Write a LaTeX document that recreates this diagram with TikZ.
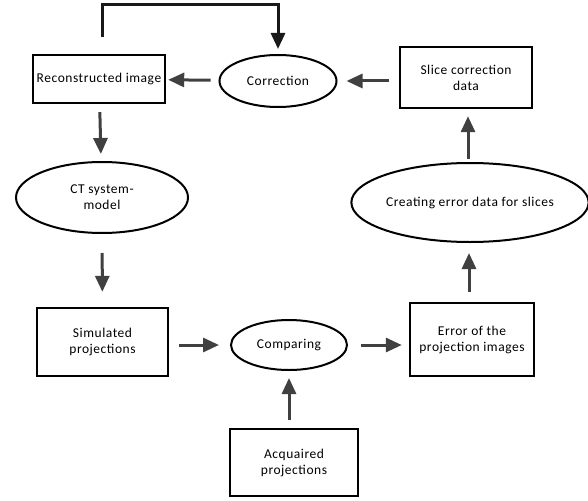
\documentclass[tikz,border=0pt]{standalone}
\usepackage{fontspec}
\setmainfont{Carlito}[LetterSpace=4]
\usetikzlibrary{shapes.geometric,arrows.meta}

\tikzset{
  stepbox/.style={draw, line width=2.4pt, inner sep=0pt, align=center},
  oval/.style={draw, ellipse, line width=2pt, inner sep=0pt, align=center},
  flow/.style={draw=black!75, line width=3pt, shorten <=8pt, shorten >=7pt,
    -{Triangle[length=16pt,width=14pt]}}
}

\begin{document}
\begin{tikzpicture}[x=1pt, y=-1pt, font=\fontsize{13.5}{16}\selectfont]
\useasboundingbox (0,0) rectangle (588,500);

% top row
\node[stepbox, minimum width=132pt, minimum height=48pt] (rec) at (99,79) {Reconstructed image};
\node[oval, minimum width=117pt, minimum height=52pt] (corr) at (278,81) {Correction};
\node[stepbox, minimum width=132pt, minimum height=61pt] (slice) at (466,77.5) {Slice correction\\data};

% middle row
\node[oval, minimum width=172pt, minimum height=71pt] (ctm) at (102,197.5) {CT system-\\model};
\node[oval, minimum width=229pt, minimum height=79pt] (creat) at (470,202.5) {Creating error data for slices};

% bottom rows
\node[stepbox, minimum width=131pt, minimum height=68pt] (sim) at (102.5,342) {Simulated\\projections};
\node[oval, minimum width=116pt, minimum height=50pt] (comp) at (289,345) {Comparing};
\node[stepbox, minimum width=124pt, minimum height=73pt] (err) at (472,339.5) {Error of the\\projection images};
\node[stepbox, minimum width=128pt, minimum height=67pt] (acq) at (294,462.5) {Acquaired\\projections};

\coordinate (loop) at (278,5);

\draw[flow, draw=black!90, shorten <=0pt, shorten >=5pt] ([xshift=3pt, yshift=17pt]rec.north) |- (loop) -- (corr.north);
\draw[flow, shorten >=2pt] (corr) -- (rec);
\draw[flow, shorten <=10pt, shorten >=9pt] (slice.west |- corr) -- (corr);
\draw[flow] (rec) -- (ctm);
\draw[flow, shorten <=19pt, shorten >=15pt] (ctm) -- (sim);
\draw[flow, shorten <=10pt, shorten >=11pt] (sim.east |- comp) -- (comp);
\draw[flow, shorten <=13pt] (comp) -- (err.west |- comp);
\draw[flow] (acq.north -| comp) -- (comp);
\draw[flow, shorten <=10pt, shorten >=10pt] (err.north -| 469,0) -- (creat.south -| 469,0);
\draw[flow, shorten <=3pt] (creat.north -| 468,0) -- (slice.south -| 468,0);

\end{tikzpicture}
\end{document}
